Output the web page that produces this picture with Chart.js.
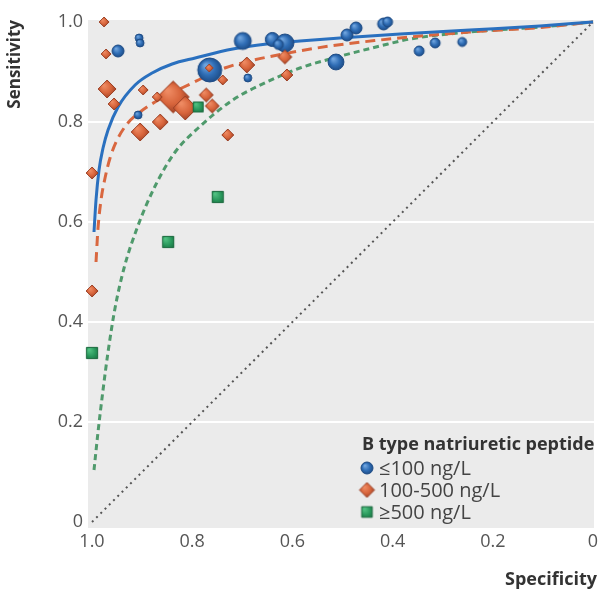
<!DOCTYPE html>
<html><head><meta charset="utf-8">
<script src="https://cdn.jsdelivr.net/npm/chart.js@4/dist/chart.umd.min.js"></script>
<style>html,body{margin:0;padding:0;background:#fff}canvas{display:block}</style>
</head><body>
<canvas id="c" width="600" height="590"></canvas>
<script>
// ---- data ----
const xTickValues = [1.0, 0.8, 0.6, 0.4, 0.2, 0];
const yTickValues = [0, 0.2, 0.4, 0.6, 0.8, 1.0];
const xTitle = 'Specificity';
const yTitle = 'Sensitivity';
const legendTitle = 'B type natriuretic peptide';
const seriesLabels = ['≤100 ng/L', '100-500 ng/L', '≥500 ng/L'];

// studies, BNP ≤100 ng/L (specificity, sensitivity, relative study weight)
const blueSpec   = [0.948,0.906,0.904,0.908,0.765,0.699,0.640,0.615,0.628,0.689,0.513,0.491,0.473,0.418,0.410,0.347,0.315,0.261];
const blueSens   = [0.942,0.968,0.958,0.814,0.904,0.962,0.965,0.958,0.955,0.888,0.920,0.974,0.988,0.996,1.000,0.942,0.958,0.960];
const blueWeight = [16,7,7,7,64,32,22,36,11,7,28,16,16,16,11,11,11,9];

// studies, BNP 100-500 ng/L
const redSpec   = [0.976,0.972,0.970,0.956,0.898,0.838,0.814,0.870,0.904,0.864,0.772,0.760,0.766,0.739,0.691,0.729,0.615,0.611,1.000,1.000];
const redSens   = [1.000,0.936,0.866,0.836,0.864,0.850,0.828,0.850,0.780,0.800,0.854,0.832,0.908,0.884,0.914,0.774,0.930,0.894,0.698,0.462];
const redWeight = [11,11,36,16,11,114,64,11,36,28,22,22,7,11,28,16,22,16,16,16];

// studies, BNP ≥500 ng/L
const greenSpec   = [0.788,0.749,0.848,1.000];
const greenSens   = [0.830,0.650,0.560,0.338];
const greenWeight = [22,28,28,28];

// summary ROC curves
const blueCurveSpec = [0.996,0.992,0.986,0.978,0.968,0.948,0.914,0.880,0.840,0.794,0.719,0.651,0.585,0.505,0.385,0.246,0.106,0];
const blueCurveSens = [0.580,0.644,0.704,0.748,0.784,0.830,0.874,0.898,0.916,0.928,0.946,0.956,0.962,0.968,0.976,0.984,0.992,1.0];
const redCurveSpec  = [0.992,0.988,0.982,0.974,0.964,0.950,0.930,0.904,0.864,0.804,0.735,0.685,0.619,0.525,0.425,0.365,0.246,0.106,0];
const redCurveSens  = [0.520,0.588,0.644,0.688,0.728,0.764,0.796,0.820,0.846,0.876,0.908,0.922,0.936,0.952,0.964,0.970,0.980,0.989,1.0];
const greenCurveSpec = [0.996,0.988,0.978,0.968,0.954,0.936,0.910,0.874,0.834,0.788,0.719,0.651,0.585,0.525,0.425,0.365,0.246,0.106,0];
const greenCurveSens = [0.104,0.180,0.264,0.340,0.428,0.508,0.588,0.672,0.740,0.788,0.844,0.880,0.908,0.926,0.952,0.966,0.980,0.990,1.0];
const diagSpec = [1, 0];
const diagSens = [0, 1];

// ---- helpers ----
const pts = (xs, ys) => xs.map((x, i) => ({x: x, y: ys[i]}));
const rad = w => w.map(v => 1.5 * Math.sqrt(v));

const COL = {
  blue: '#2f6db5', blueEdge: '#1d4b85', blueHi: '#6ea3dd',
  red: '#d8653c', redEdge: '#9c4126', redHi: '#ee8a62',
  green: '#27965a', greenEdge: '#1a6a3e', greenHi: '#4fbf80',
  blueLine: '#2a70bf', redLine: '#d9673f', greenLine: '#4f9a6c', diag: '#555555',
  panel: '#ebebeb'
};

// shaded marker sprites (one per size), used as Chart.js point styles
const spriteCache = {};
function sprite(style, r, fill, edge, hi) {
  const key = style + r.toFixed(2) + fill;
  if (spriteCache[key]) return spriteCache[key];
  const s = Math.ceil(2 * r + 4);
  const cv = document.createElement('canvas');
  cv.width = s; cv.height = s;
  const g = cv.getContext('2d');
  const c = s / 2;
  const grad = g.createRadialGradient(c - r * 0.35, c - r * 0.4, r * 0.1, c, c, r * 1.05);
  grad.addColorStop(0, hi); grad.addColorStop(0.55, fill); grad.addColorStop(1, edge);
  g.fillStyle = grad; g.strokeStyle = edge; g.lineWidth = 1;
  g.beginPath();
  if (style === 'circle') g.arc(c, c, r, 0, Math.PI * 2);
  else if (style === 'rectRot') { g.moveTo(c - r, c); g.lineTo(c, c - r); g.lineTo(c + r, c); g.lineTo(c, c + r); g.closePath(); }
  else { const h = r * Math.SQRT1_2; g.rect(c - h, c - h, 2 * h, 2 * h); }
  g.fill(); g.stroke();
  spriteCache[key] = cv;
  return cv;
}

const panelBg = {
  id: 'panelBg',
  beforeDraw(chart) {
    const {ctx, chartArea: a} = chart;
    ctx.save();
    ctx.fillStyle = COL.panel;
    ctx.fillRect(a.left, a.top, a.right - a.left, a.bottom - a.top);
    ctx.restore();
  }
};

const customLegend = {
  id: 'customLegend',
  afterDatasetsDraw(chart) {
    const {ctx, chartArea: a} = chart;
    const x0 = a.right - 232, y0 = a.bottom - 83;
    ctx.save();
    ctx.textBaseline = 'middle';
    ctx.textAlign = 'left';
    ctx.fillStyle = '#333';
    ctx.font = 'bold 18px "Open Sans"';
    ctx.fillText(legendTitle, x0, y0);
    ctx.font = '20px "Open Sans"';
    const items = chart.data.datasets.filter(d => d.legendItem);
    items.forEach((d, i) => {
      const y = y0 + 23 + i * 22;
      const r = d.markerStyle === 'circle' ? 6 : 7.5;
      const sp = sprite(d.markerStyle, r, d.backgroundColor, d.borderColor, d.highlight);
      ctx.drawImage(sp, x0 + 5 - sp.width / 2, y - sp.height / 2);
      ctx.fillStyle = '#444';
      ctx.fillText(d.label, x0 + 17, y + 1);
    });
    // x-axis title, right aligned under the axis
    ctx.textAlign = 'right';
    ctx.fillStyle = '#333';
    ctx.font = 'bold 18px "Open Sans"';
    ctx.fillText(xTitle, a.right + 3, 580);
    ctx.restore();
  }
};

const lineDs = (label, xs, ys, color, dash, width, order) => ({
  type: 'scatter', label, data: pts(xs, ys), showLine: true, pointRadius: 0, pointHoverRadius: 0,
  borderColor: color, borderWidth: width, borderDash: dash, fill: false,
  cubicInterpolationMode: 'monotone', order, clip: false
});
const pointDs = (label, xs, ys, w, style, fill, edge, hi, order) => {
  const radii = rad(w);
  return {
    type: 'scatter', label, legendItem: true, markerStyle: style, highlight: hi,
    data: pts(xs, ys),
    pointStyle: c => sprite(style, radii[c.dataIndex] || 6, fill, edge, hi),
    pointRadius: radii, pointHoverRadius: radii, backgroundColor: fill, borderColor: edge,
    pointBackgroundColor: fill, pointBorderColor: edge, pointBorderWidth: 1, order, clip: false
  };
};

new Chart(document.getElementById('c'), {
  type: 'scatter',
  data: {
    datasets: [
      lineDs('diagonal', diagSpec, diagSens, COL.diag, [2, 4], 2, 20),
      lineDs('SROC ≥500', greenCurveSpec, greenCurveSens, COL.greenLine, [6, 4], 3, 12),
      lineDs('SROC 100-500', redCurveSpec, redCurveSens, COL.redLine, [10, 6], 3, 11),
      lineDs('SROC ≤100', blueCurveSpec, blueCurveSens, COL.blueLine, [], 3, 10),
      pointDs(seriesLabels[0], blueSpec, blueSens, blueWeight, 'circle', COL.blue, COL.blueEdge, COL.blueHi, 3),
      pointDs(seriesLabels[1], redSpec, redSens, redWeight, 'rectRot', COL.red, COL.redEdge, COL.redHi, 2),
      pointDs(seriesLabels[2], greenSpec, greenSens, greenWeight, 'rect', COL.green, COL.greenEdge, COL.greenHi, 1)
    ]
  },
  options: {
    responsive: false, animation: false,
    layout: {autoPadding: false, padding: {left: 0, right: 6, top: 20, bottom: 0}},
    plugins: {legend: {display: false}, tooltip: {enabled: false}},
    scales: {
      x: {
        reverse: true, min: -0.002, max: 1.008,
        afterBuildTicks: s => { s.ticks = xTickValues.map(v => ({value: v})); },
        afterFit: s => { s.height = 62; s.paddingLeft = 0; s.paddingRight = 0; },
        ticks: {autoSkip: false, maxRotation: 0, padding: 3, color: '#555', font: {family: 'Open Sans', size: 18},
          callback: v => v === 0 ? '0' : Number(v).toFixed(1)},
        grid: {display: false, drawTicks: false},
        border: {display: false},
        title: {display: false}
      },
      y: {
        min: -0.012, max: 1.004,
        afterBuildTicks: s => { s.ticks = yTickValues.map(v => ({value: v})); },
        afterFit: s => { s.width = 88; s.paddingTop = 0; s.paddingBottom = 0; },
        ticks: {autoSkip: false, padding: 5, color: '#555', font: {family: 'Open Sans', size: 18},
          callback: v => v === 0 ? '0' : Number(v).toFixed(1)},
        grid: {drawTicks: false, lineWidth: 2,
          color: c => (c.tick && c.tick.value > 0.01 && c.tick.value < 0.99) ? '#ffffff' : 'rgba(0,0,0,0)'},
        border: {display: false},
        title: {display: true, text: yTitle, align: 'end', color: '#333', font: {family: 'Open Sans', size: 17, weight: 'bold'}, padding: {top: 5, bottom: 0}}
      }
    }
  },
  plugins: [panelBg, customLegend]
});
</script>
</body></html>
